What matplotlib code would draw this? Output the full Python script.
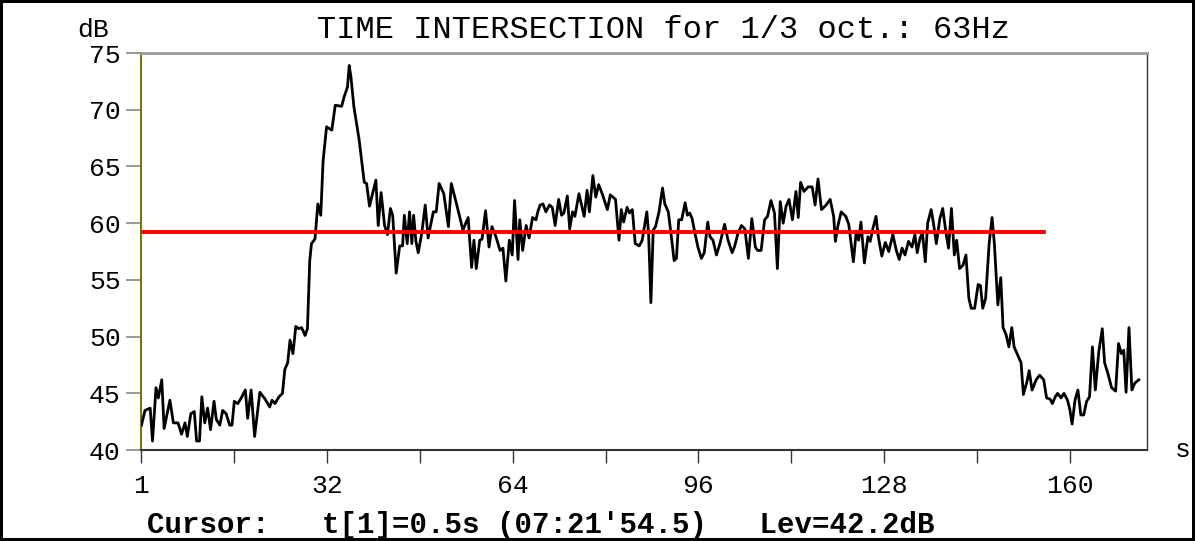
import numpy as np
import matplotlib.pyplot as plt

# level readings (time in s, level in dB)
t_s = [
    0.0, 0.6, 1.5, 1.9, 2.5, 2.9, 3.5, 3.9, 4.9, 5.5, 6.3, 6.9, 7.5, 7.9, 8.5, 9.1,
    9.5, 10.0, 10.4, 10.9, 11.4, 11.9, 12.5, 12.9, 13.5, 14.0, 14.6, 15.2, 15.6, 16.0,
    16.6, 17.2, 17.9, 18.3, 18.9, 19.5, 20.4, 21.3, 22.1, 22.5, 23.0, 23.7, 24.3, 24.7,
    25.2, 25.6, 26.1, 26.6, 27.1, 27.6, 28.2, 28.6, 29.0, 29.3, 29.9, 30.4, 30.9, 31.3,
    31.9, 32.8, 33.4, 34.5, 34.9, 35.5, 35.8, 36.1, 36.6, 37.5, 38.4, 38.8, 39.3, 40.4,
    40.8, 41.3, 41.9, 42.4, 42.9, 43.3, 43.9,
    44.5, 45.0, 45.3, 45.8, 46.2, 46.6, 46.9, 47.3, 47.7, 48.3, 48.9, 49.4, 50.3, 50.8,
    51.3, 52.1, 52.9, 53.4, 54.3, 55.4, 56.3, 56.9, 57.3, 57.7, 58.3, 58.7, 59.3, 59.9,
    60.4, 61.1, 61.8, 62.3, 62.8, 63.4, 63.9, 64.3, 64.9, 65.2, 65.7, 66.3, 66.8, 67.4,
    68.0, 68.3,
    68.7, 69.2, 69.7, 70.3, 70.8, 71.3, 71.9, 72.4, 72.8, 73.4, 73.8, 74.3, 74.7, 75.4,
    75.9, 76.3, 76.8, 77.2, 77.8, 78.3, 78.8, 79.4, 80.3, 80.8, 81.7, 82.3, 82.7, 83.1,
    83.7, 84.1, 84.6, 85.1, 85.8, 86.3, 87.1, 87.4, 87.8, 88.2, 88.6, 89.2, 89.8, 90.2,
    90.8, 91.4, 91.8, 92.2, 92.6, 93.1, 93.7, 94.1, 94.5, 94.9, 95.4, 95.9, 96.5, 97.0,
    97.6, 98.0, 98.5, 99.1, 99.7, 100.5, 101.1, 101.8,
    102.2, 102.8, 103.4, 104.0, 104.6, 105.2, 105.8, 106.2, 106.8, 107.4, 107.9, 108.5,
    109.1, 109.6, 110.1, 110.6, 111.1, 111.6, 112.2, 112.8, 113.2, 113.6, 114.2, 114.9,
    115.6, 116.1, 116.6, 117.2, 118.0, 118.7, 119.3, 119.6, 120.0, 120.6, 121.4, 121.9,
    122.7, 123.2, 123.6, 124.0, 124.6, 125.2, 125.6, 126.0, 126.6, 127.0, 127.6, 128.2,
    128.8, 129.5, 130.1, 130.6, 131.1, 131.6, 132.2, 132.8, 133.3, 133.7, 134.2, 134.6,
    135.1, 135.5, 136.1,
    136.5, 137.0, 137.6, 138.1, 138.7, 139.1, 139.6, 140.1, 140.5, 141.0, 141.6, 142.1,
    142.6, 143.0, 143.6, 144.2, 144.6, 145.0, 145.5, 146.1, 146.6, 147.0, 147.6, 148.1,
    148.5, 149.0, 149.5, 150.0, 150.4, 151.0, 151.6, 152.0, 152.6, 153.0, 153.5, 154.2,
    154.8, 155.5, 156.0, 156.6, 157.0, 157.5, 157.9, 158.5, 159.0, 159.6, 160.0, 160.4,
    160.9, 161.4, 161.9, 162.4, 162.9, 163.4, 163.9, 164.4, 165.0, 165.6, 166.0, 166.6,
    167.2, 167.9, 168.4, 168.9, 169.3, 169.7, 170.2, 170.7, 171.2, 171.9,
]
lev_db = [
    42.2, 43.5, 43.7, 40.8, 45.5, 44.6, 46.2, 41.9, 44.4, 42.4, 42.4, 41.4, 42.4, 41.2, 43.2, 43.4,
    40.8, 40.8, 44.7, 42.4, 43.7, 41.8, 44.3, 42.7, 42.2, 43.5, 43.2, 42.2, 42.2, 44.3,
    44.1, 44.6, 45.3, 42.8, 45.3, 41.2, 45.1, 44.5, 43.8, 44.4, 44.1, 44.7, 45.0, 47.1,
    47.7, 49.7, 48.5, 50.9, 50.7, 50.8, 50.1, 50.7, 56.7, 58.2, 58.6, 61.7, 60.7, 65.5,
    68.5, 68.2, 70.4, 70.3, 71.1, 72.0, 73.9, 72.9, 70.3, 67.4, 63.6, 63.5, 61.5, 63.8,
    59.8, 62.7, 59.8, 59.0, 61.3, 60.7, 55.6,
    58.0, 58.0, 60.7, 58.2, 61.0, 58.2, 60.7, 58.4, 57.4, 59.1, 61.6, 58.7, 61.0, 61.0,
    63.5, 62.6, 59.7, 63.5, 61.7, 59.4, 60.5, 56.1, 58.5, 56.0, 58.5, 58.6, 61.1, 57.9,
    59.7, 58.8, 57.6, 57.8, 54.9, 58.5, 57.2, 62.0, 56.8, 60.3, 57.6, 59.8, 58.7, 60.5,
    60.3, 61.0,
    61.6, 61.7, 61.0, 61.6, 61.4, 59.8, 62.1, 60.7, 60.9, 62.4, 59.5, 61.0, 60.6, 62.6,
    61.5, 60.6, 62.9, 61.0, 64.2, 62.3, 63.4, 62.6, 61.2, 62.5, 62.1, 58.5, 61.2, 60.1,
    61.4, 60.9, 61.2, 58.2, 58.0, 58.5, 61.0, 59.1, 53.0, 59.4, 59.7, 61.0, 63.1, 61.7,
    61.0, 58.5, 56.7, 56.9, 60.3, 60.3, 61.8, 60.7, 60.9, 60.4, 59.1, 57.9, 56.9, 57.4,
    60.1, 58.8, 58.5, 57.2, 58.2, 59.9, 58.5, 57.4,
    57.9, 59.1, 59.8, 59.5, 56.9, 60.4, 57.9, 57.6, 57.6, 60.3, 60.6, 62.0,
    60.9, 56.0, 61.9, 60.0, 61.5, 62.1, 60.3, 62.8, 60.5, 63.6, 62.8, 63.2,
    63.2, 61.6, 63.9, 61.2, 61.6, 62.1, 60.6, 58.4, 59.7, 61.0, 60.6, 59.9,
    56.6, 59.3, 58.5, 60.1, 56.5, 58.8, 58.4, 59.4, 60.6, 58.8, 57.1, 58.3,
    57.5, 59.0, 57.6, 56.8, 57.8, 57.2, 58.4, 57.9, 59.0, 57.4, 58.7, 59.1,
    56.6, 60.0, 61.2,
    60.0, 58.2, 60.4, 61.3, 59.0, 57.8, 61.3, 57.2, 58.5, 56.0, 56.3, 57.2,
    53.4, 52.5, 52.5, 54.6, 54.5, 52.5, 53.4, 58.2, 60.5, 58.2, 52.8, 55.2,
    50.8, 50.2, 49.1, 50.8, 49.1, 48.4, 47.7, 44.9, 46.0, 47.0, 45.3, 46.2,
    46.6, 46.2, 44.6, 44.5, 44.1, 44.7, 45.0, 44.6, 45.0, 44.4, 43.6, 42.3,
    44.4, 45.3, 43.1, 43.1, 44.3, 44.7, 49.1, 45.3, 48.7, 50.7, 47.7, 46.7,
    45.5, 45.2, 49.4, 48.5, 48.8, 45.1, 50.8, 45.3, 45.9, 46.2,
]

mean_level = 59.2
mean_span = [0.0, 155.5]

x_ticks = [0, 32, 64, 96, 128, 160]
x_labels = ["1", "32", "64", "96", "128", "160"]
x_minor = [16, 48, 80, 112, 144]
y_ticks = [40, 45, 50, 55, 60, 65, 70, 75]

mono = "Liberation Mono"

fig = plt.figure(figsize=(11.95, 5.41), dpi=100)
fig.patch.set_edgecolor("black")
fig.patch.set_linewidth(3)

ax = fig.add_axes([0.1184, 0.168, 0.8414, 0.734])
ax.plot(t_s, lev_db, color="black", linewidth=2.0, zorder=3)
ax.plot(mean_span, [mean_level, mean_level], color="#ff0000", linewidth=2.8, zorder=4)

ax.set_xlim(0, 173.3)
ax.set_ylim(40, 75)
ax.set_xticks(x_ticks)
ax.set_xticklabels(x_labels)
ax.set_xticks(x_minor, minor=True)
ax.set_yticks(y_ticks)

ax.spines["left"].set_color("#7a7a00")
ax.spines["left"].set_linewidth(1.5)
ax.spines["top"].set_color("#999999")
ax.spines["top"].set_linewidth(2)
ax.spines["right"].set_color("#333333")
ax.spines["right"].set_linewidth(1)
ax.spines["bottom"].set_color("#333333")
ax.spines["bottom"].set_linewidth(1.5)

ax.tick_params(axis="x", which="both", direction="out", length=9, width=1,
               color="#333333", pad=8)
ax.tick_params(axis="y", direction="out", length=11, width=1.2, color="#888888", pad=4)
for lab in ax.get_xticklabels() + ax.get_yticklabels():
    lab.set_fontfamily(mono)
    lab.set_fontsize(19)

fig.text(0.555, 0.945, "TIME INTERSECTION for 1/3 oct.: 63Hz", family=mono,
         fontsize=23, ha="center", va="center")
fig.text(0.078, 0.945, "dB", family=mono, fontsize=19, ha="center", va="center")
fig.text(0.99, 0.168, "s", family=mono, fontsize=19, ha="center", va="center")
fig.text(0.123, 0.03, "Cursor:   t[1]=0.5s (07:21'54.5)   Lev=42.2dB", family=mono,
         fontsize=21, fontweight="bold", ha="left", va="center")

fig.savefig("out.png", dpi=100, edgecolor=fig.get_edgecolor())
